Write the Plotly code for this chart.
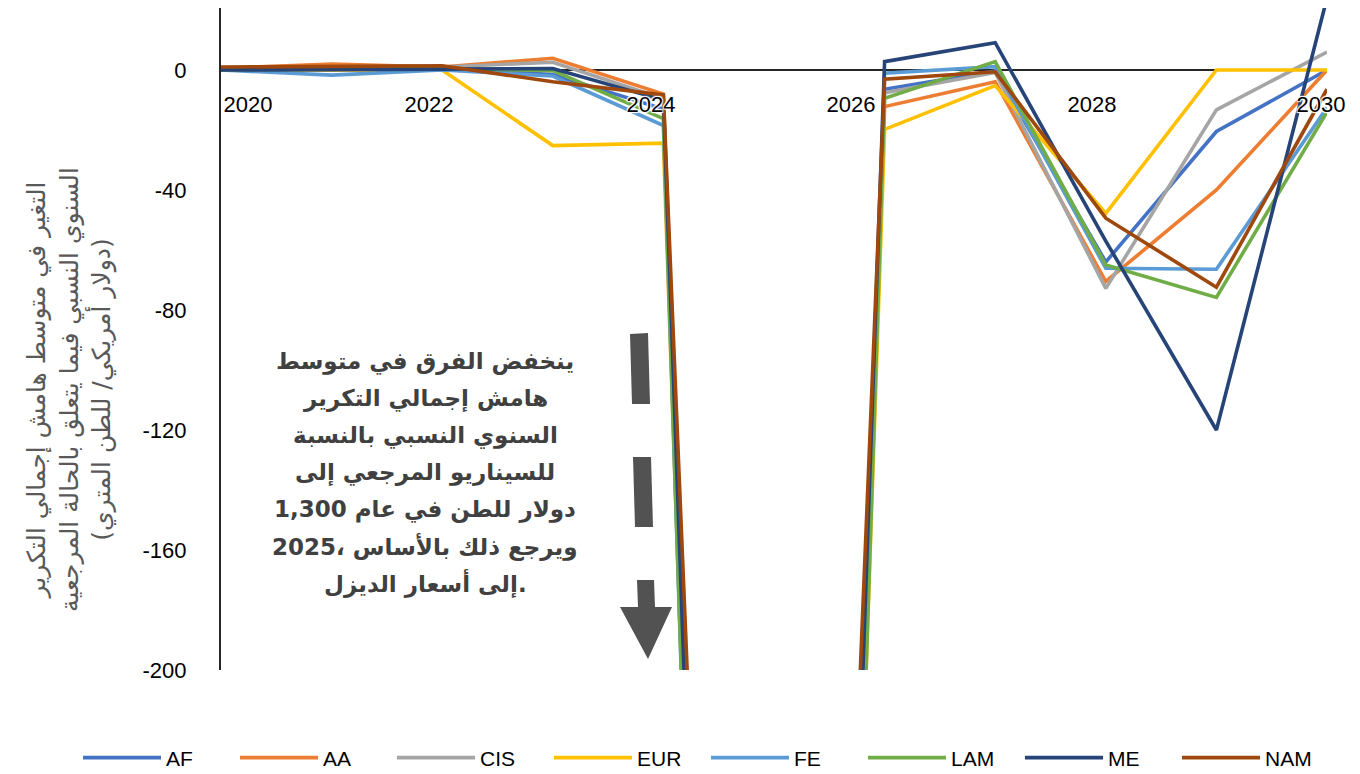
import plotly.graph_objects as go

# ---------------- data ----------------
years = [2020, 2021, 2022, 2023, 2024, 2025, 2026, 2027, 2028, 2029, 2030]

AF  = [0.5, 0.0, 0.5, -1.5, -13.0, -1050, -6.4, -0.3, -64.0, -20.5, 0.0]
AA  = [0.5, 2.0, 1.0, 3.9, -8.0, -1000, -12.2, -3.9, -70.5, -40.0, 0.0]
CIS = [0.5, 0.5, 1.0, 2.6, -9.5, -1050, -7.6, -0.8, -72.8, -13.3, 6.0]
EUR = [0.0, 0.0, 0.0, -25.2, -24.4, -1100, -19.8, -5.2, -47.8, 0.0, 0.0]
FE  = [0.0, -1.7, 0.0, -2.0, -18.5, -1150, -1.1, 1.1, -66.1, -66.4, -12.5]
LAM = [0.0, 0.3, 0.5, -0.2, -16.2, -1150, -9.4, 2.8, -65.0, -75.8, -14.0]
ME  = [0.0, 0.0, 0.3, 0.5, -10.0, -1030, 2.8, 9.1, -57.0, -120.0, 24.0]
NAM = [1.0, 1.3, 1.4, -3.9, -8.3, -900, -3.1, -0.6, -49.4, -72.4, -6.4]

series_names = ["AF", "AA", "CIS", "EUR", "FE", "LAM", "ME", "NAM"]
series_values = [AF, AA, CIS, EUR, FE, LAM, ME, NAM]
series_colors = ["#4472C4", "#ED7D31", "#A5A5A5", "#FFC000",
                 "#5B9BD5", "#70AD47", "#264478", "#9E480E"]

x_tick_labels = ["2020", "2022", "2024", "2026", "2028", "2030"]
y_tick_values = [0, -40, -80, -120, -160, -200]
y_tick_labels = ["0", "-40", "-80", "-120", "-160", "-200"]

y_title = ("التغير في متوسط هامش إجمالي التكرير<br>"
           "السنوي النسبي فيما يتعلق بالحالة المرجعية<br>"
           "(دولار أمريكي/ للطن المتري)")

note_lines = [
    "ينخفض الفرق في متوسط",
    "هامش إجمالي التكرير",
    "السنوي النسبي بالنسبة",
    "للسيناريو المرجعي إلى",
    "1,300 دولار للطن في عام",
    "2025، ويرجع ذلك بالأساس",
    "إلى أسعار الديزل.",
]

# ---------------- layout geometry ----------------
W, H = 1360, 774
ML, MR, MT, MB = 221, 33, 8, 104
XR = [2020, 2030]
YR = [-200, 20.67]
plot_w = W - ML - MR
plot_h = H - MT - MB


def px_x(px):
    return XR[0] + (px - ML) / plot_w * (XR[1] - XR[0])


def px_y(py):
    return YR[1] - (py - MT) / plot_h * (YR[1] - YR[0])


# tick label centres (Excel places them slightly off the year points)
x_tick_pos = [px_x(p) for p in (248, 429, 651, 851, 1092, 1321)]

fig = go.Figure()
for name, vals, col in zip(series_names, series_values, series_colors):
    fig.add_trace(go.Scatter(x=years, y=vals, name=name, mode="lines",
                             line=dict(color=col, width=3.6)))

axis_font = dict(family="Liberation Sans, Arial, sans-serif", size=22, color="#000000")

fig.update_layout(
    width=W, height=H,
    margin=dict(l=ML, r=MR, t=MT, b=MB, pad=0, autoexpand=False),
    paper_bgcolor="white", plot_bgcolor="white",
    showlegend=True,
    legend=dict(orientation="h", x=(78 - ML) / plot_w, xanchor="left",
                y=-(758 - (H - MB)) / plot_h, yanchor="middle",
                font=dict(family="Liberation Sans, Arial, sans-serif", size=21, color="#000000"),
                itemwidth=78, entrywidth=64, entrywidthmode="pixels",
                tracegroupgap=0, bgcolor="rgba(0,0,0,0)"),
    xaxis=dict(range=XR, anchor="free", position=(0 - YR[0]) / (YR[1] - YR[0]),
               showline=False, showgrid=False, zeroline=False,
               tickmode="array", tickvals=x_tick_pos, ticktext=x_tick_labels,
               ticks="", ticklabelstandoff=19,
               tickfont=dict(axis_font, shadow="auto")),
    yaxis=dict(range=YR, showline=True, linecolor="#262626", linewidth=2,
               showgrid=False, zeroline=True, zerolinecolor="#262626", zerolinewidth=2,
               tickmode="array", tickvals=y_tick_values, ticktext=y_tick_labels,
               ticks="", ticklabelstandoff=28, tickfont=axis_font),
)

# y-axis title (rotated, Arabic)
fig.add_annotation(text=y_title, xref="paper", yref="paper",
                   x=(69 - ML) / plot_w, y=(H - MB - 390) / plot_h,
                   xanchor="center", yanchor="middle", textangle=-90, showarrow=False,
                   align="center",
                   font=dict(family="DejaVu Sans, sans-serif", size=25, color="#595959"))

# note text, one annotation per line for Excel-like line spacing
for i, line in enumerate(note_lines):
    fig.add_annotation(text=line, xref="x", yref="y",
                       x=px_x(425), y=px_y(361 + i * 37.0),
                       xanchor="center", yanchor="middle", showarrow=False,
                       font=dict(family="DejaVu Sans, sans-serif", size=23,
                                 color="#404040", weight="bold"))

# dashed down arrow
arrow_col = "#525252"
dashes = [
    [(630, 334), (648, 333), (650, 404), (632, 404)],
    [(633, 457), (651, 457), (653, 527), (635, 527)],
]
for d in dashes:
    path = "M " + " L ".join(f"{px_x(a)},{px_y(b)}" for a, b in d) + " Z"
    fig.add_shape(type="path", path=path, xref="x", yref="y",
                  fillcolor=arrow_col, line=dict(width=0), layer="above")
head = [(637, 580), (654, 580), (655, 607), (672, 607), (648, 659), (620, 607), (638, 607)]
path = "M " + " L ".join(f"{px_x(a)},{px_y(b)}" for a, b in head) + " Z"
fig.add_shape(type="path", path=path, xref="x", yref="y",
              fillcolor=arrow_col, line=dict(width=0), layer="above")

fig.write_html("out.html")
